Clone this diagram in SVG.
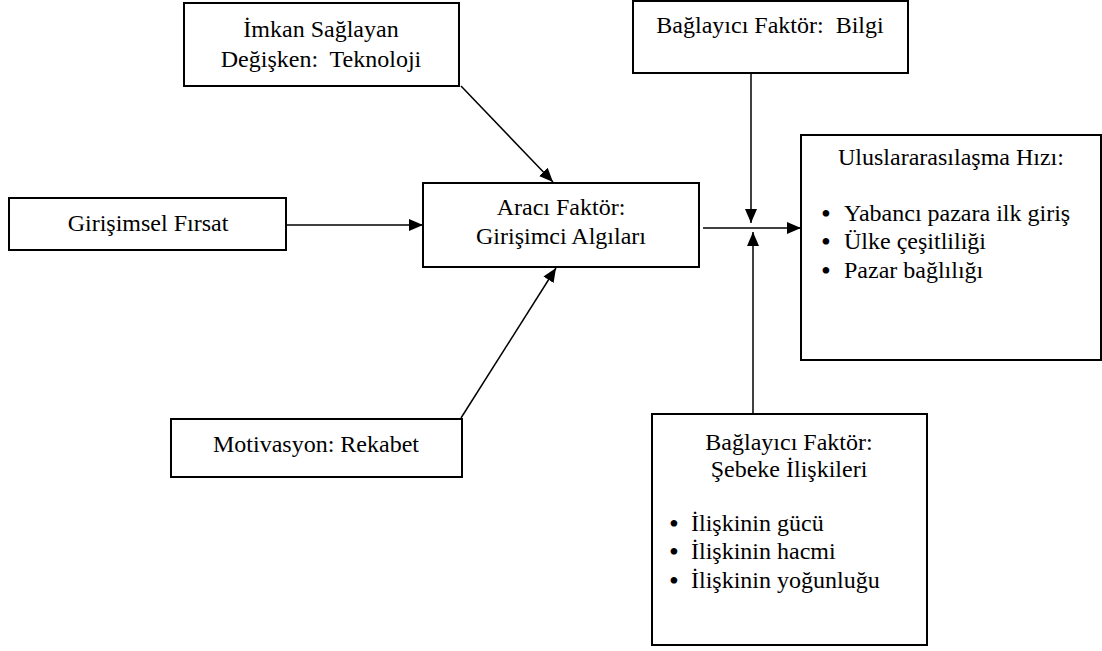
<svg xmlns="http://www.w3.org/2000/svg" width="1102" height="651" viewBox="0 0 1102 651" font-family="Liberation Serif, Times New Roman, DejaVu Serif, serif" font-size="24">
  <style>
    .box { fill: #ffffff; stroke: #000000; stroke-width: 2; }
    text { font-family: "Liberation Serif", "Times New Roman", Times, "DejaVu Serif", serif; font-size: 24px; fill: #000000; }
    .c { text-anchor: middle; }
    .bul { font-size: 28px; }
    .conn { stroke: #000000; stroke-width: 1.5; fill: none; marker-end: url(#arrowBig); }
  </style>
  <defs>
    <marker id="arrowBig" viewBox="0 0 14 12" refX="14" refY="6" markerWidth="14" markerHeight="12" markerUnits="userSpaceOnUse" orient="auto">
      <path d="M0,0 L14,6 L0,12 z" fill="#000000"/>
    </marker>
  </defs>

  <!-- connectors -->
  <g id="connectors">
    <line class="conn" x1="287" y1="225" x2="423" y2="225"/>
    <line class="conn" x1="461" y1="86" x2="553" y2="182"/>
    <line class="conn" x1="461" y1="418" x2="556" y2="268"/>
    <line class="conn" x1="703" y1="228" x2="801" y2="228"/>
    <line class="conn" x1="751" y1="73" x2="751" y2="223"/>
    <line class="conn" x1="753" y1="414" x2="753" y2="232"/>
  </g>

  <g id="imkan">
    <rect class="box" x="184" y="3" width="275" height="83"/>
    <text class="c" x="321" y="37">İmkan Sağlayan</text>
    <text class="c" x="321" y="67" xml:space="preserve">Değişken:  Teknoloji</text>
  </g>

  <g id="bilgi">
    <rect class="box" x="633" y="1" width="275" height="72"/>
    <text class="c" x="770" y="33" xml:space="preserve">Bağlayıcı Faktör:  Bilgi</text>
  </g>

  <g id="firsat">
    <rect class="box" x="9" y="198" width="277" height="52"/>
    <text class="c" x="148" y="231">Girişimsel Fırsat</text>
  </g>

  <g id="araci">
    <rect class="box" x="423" y="183" width="276" height="84"/>
    <text class="c" x="561" y="215">Aracı Faktör:</text>
    <text class="c" x="561" y="244">Girişimci Algıları</text>
  </g>

  <g id="hiz">
    <rect class="box" x="801" y="135" width="300" height="225"/>
    <text class="c" x="951" y="165">Uluslararasılaşma Hızı:</text>
    <text x="821" y="221"><tspan class="bul" dy="2">•</tspan><tspan x="844" dy="-2">Yabancı pazara ilk giriş</tspan></text>
    <text x="821" y="249"><tspan class="bul" dy="2">•</tspan><tspan x="844" dy="-2">Ülke çeşitliliği</tspan></text>
    <text x="821" y="278"><tspan class="bul" dy="2">•</tspan><tspan x="844" dy="-2">Pazar bağlılığı</tspan></text>
  </g>

  <g id="motivasyon">
    <rect class="box" x="171" y="419" width="291" height="58"/>
    <text class="c" x="316" y="452">Motivasyon: Rekabet</text>
  </g>

  <g id="sebeke">
    <rect class="box" x="652" y="414" width="275" height="231"/>
    <text class="c" x="789" y="450">Bağlayıcı Faktör:</text>
    <text class="c" x="789" y="477">Şebeke İlişkileri</text>
    <text x="669" y="531"><tspan class="bul" dy="2">•</tspan><tspan x="691" dy="-2">İlişkinin gücü</tspan></text>
    <text x="669" y="559"><tspan class="bul" dy="2">•</tspan><tspan x="691" dy="-2">İlişkinin hacmi</tspan></text>
    <text x="669" y="588"><tspan class="bul" dy="2">•</tspan><tspan x="691" dy="-2">İlişkinin yoğunluğu</tspan></text>
  </g>
</svg>
